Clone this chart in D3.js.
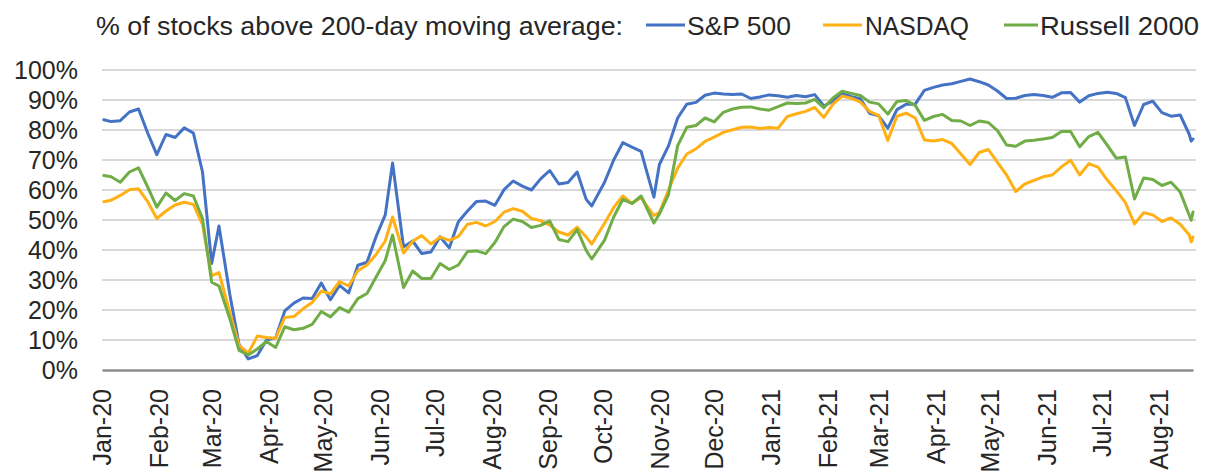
<!DOCTYPE html>
<html>
<head>
<meta charset="utf-8">
<script src="https://cdnjs.cloudflare.com/ajax/libs/d3/7.8.5/d3.min.js"></script>
<style>
  body { margin: 0; background: #fff; }
  svg { display: block; }
</style>
</head>
<body>
<div id="chart"></div>
<script>
// % of stocks above their 200-day moving average
const dates = [
  "2020-01-02","2020-01-06","2020-01-11","2020-01-16","2020-01-21","2020-01-26","2020-01-31","2020-02-05","2020-02-10","2020-02-15",
  "2020-02-20","2020-02-25","2020-03-01","2020-03-05","2020-03-11","2020-03-16","2020-03-21","2020-03-26","2020-03-31","2020-04-05",
  "2020-04-10","2020-04-15","2020-04-20","2020-04-25","2020-04-30","2020-05-05","2020-05-10","2020-05-15","2020-05-20","2020-05-25",
  "2020-05-30","2020-06-04","2020-06-08","2020-06-14","2020-06-19","2020-06-24","2020-06-29","2020-07-04","2020-07-09","2020-07-14",
  "2020-07-19","2020-07-24","2020-07-29","2020-08-03","2020-08-08","2020-08-13","2020-08-18","2020-08-23","2020-08-28","2020-09-02",
  "2020-09-07","2020-09-12","2020-09-17","2020-09-22","2020-09-25","2020-10-02","2020-10-07","2020-10-12","2020-10-17","2020-10-22",
  "2020-10-29","2020-11-01","2020-11-06","2020-11-11","2020-11-16","2020-11-21","2020-11-26","2020-12-01","2020-12-06","2020-12-11",
  "2020-12-16","2020-12-21","2020-12-26","2020-12-31","2021-01-05","2021-01-10","2021-01-15","2021-01-20","2021-01-25","2021-01-30",
  "2021-02-04","2021-02-09","2021-02-14","2021-02-19","2021-02-24","2021-03-01","2021-03-06","2021-03-11","2021-03-16","2021-03-21",
  "2021-03-26","2021-03-31","2021-04-05","2021-04-10","2021-04-15","2021-04-20","2021-04-25","2021-04-30","2021-05-05","2021-05-10",
  "2021-05-15","2021-05-20","2021-05-25","2021-05-30","2021-06-04","2021-06-09","2021-06-14","2021-06-19","2021-06-24","2021-06-29",
  "2021-07-04","2021-07-09","2021-07-14","2021-07-19","2021-07-24","2021-07-29","2021-08-03","2021-08-08","2021-08-13","2021-08-18",
  "2021-08-19","2021-08-20"
];

const sp500 = [
  83.4, 82.8, 83.1, 86, 87, 79, 71.8, 78.5, 77.5, 80.7,
  79, 66, 35.5, 48, 25, 8.5, 3.7, 4.8, 10, 10.7,
  19.7, 22.3, 24, 23.8, 29, 23.4, 28.2, 25.7, 34.9, 35.9,
  44.5, 51.7, 69, 41, 43, 38.8, 39.3, 44.4, 40.7, 49.4,
  53, 56.2, 56.3, 54.9, 60.1, 63, 61.3, 60, 63.7, 66.5,
  62, 62.5, 66, 56.8, 54.7, 62.6, 70, 75.8, 74.3, 72.9,
  57.6, 68.5, 74.7, 84, 88.6, 89.2, 91.6, 92.3, 92, 91.8,
  92, 90.5, 91, 91.7, 91.4, 90.9, 91.5, 91.1, 91.8, 88,
  89.6, 92.3, 91.1, 90.4, 85.6, 84.7, 80.6, 86.8, 88.6, 88.6,
  93.2, 94.2, 95, 95.4, 96.2, 97, 96.1, 95, 93, 90.5,
  90.6, 91.5, 91.8, 91.5, 90.9, 92.4, 92.5, 89.3, 91.4, 92.2,
  92.6, 92.2, 90.8, 81.5, 88.5, 89.6, 85.8, 84.6, 85, 78.5,
  76.3, 77
];

const nasdaq = [
  56.1, 56.6, 58.2, 60.1, 60.4, 56.1, 50.5, 53, 55, 55.9,
  55.2, 48.5, 31.4, 32.5, 19, 8.2, 5.6, 11.3, 10.8, 10.6,
  17.5, 17.8, 20.4, 22.5, 26.3, 25.4, 29.5, 28, 33.1, 35,
  38.5, 43, 51, 39, 42.9, 44.8, 42, 44.3, 43.2, 44.5,
  48.6, 49.2, 48, 49.5, 52.6, 53.8, 52.9, 50.5, 49.8, 48.3,
  46, 45, 47.6, 44.3, 42, 48.9, 54.2, 58, 55.5, 57.5,
  51.5, 52.5, 60, 67.3, 72, 73.7, 76.2, 77.6, 79.2, 80.1,
  80.9, 81, 80.5, 80.8, 80.6, 84.5, 85.4, 86.2, 87.5, 84.2,
  88.6, 91.3, 90.6, 89.3, 86.2, 84.8, 76.5, 84.6, 85.6, 84,
  76.7, 76.3, 76.8, 75.5, 72, 68.5, 72.5, 73.5, 69.2, 65,
  59.5, 62, 63.2, 64.4, 65, 67.7, 69.9, 65, 68.8, 67.6,
  63.4, 59.8, 55.8, 48.7, 52.4, 51.7, 49.5, 50.7, 48.6, 45,
  42.7, 44.3
];

const russell = [
  64.8, 64.4, 62.6, 66, 67.4, 61, 54.3, 59, 56.5, 58.8,
  58, 50.5, 29.3, 28, 17, 6.5, 5, 7, 9.5, 7.5,
  14.4, 13.4, 13.9, 15.2, 19.5, 17.7, 20.8, 19.3, 23.8, 25.5,
  31, 36.5, 45, 27.5, 33, 30.5, 30.5, 35.5, 33.5, 35,
  39.5, 39.7, 38.8, 42.5, 47.8, 50.3, 49.5, 47.5, 48.2, 49.7,
  43.5, 42.8, 46.8, 39.8, 37, 43.3, 51, 56.9, 55.5, 58,
  49, 52, 58.5, 74.8, 80.9, 81.5, 84, 82.7, 85.9, 87,
  87.6, 87.7, 87, 86.6, 87.8, 89, 88.8, 89, 90.2, 87.4,
  90.7, 92.9, 92.2, 91.5, 89.3, 88.7, 85.3, 89.5, 89.8, 88.2,
  83.2, 84.5, 85.2, 83.2, 83, 81.5, 83, 82.5, 79.8, 75,
  74.6, 76.3, 76.6, 77, 77.5, 79.5, 79.5, 74.4, 77.8, 79.2,
  75, 70.6, 71, 57, 64, 63.5, 61.5, 62.6, 59.3, 51.5,
  49.9, 52.7
];

const seriesNames = ["S&P 500", "NASDAQ", "Russell 2000"];
const seriesColors = ["#4472c4", "#ffb014", "#70ad47"];
const yTicks = [0, 10, 20, 30, 40, 50, 60, 70, 80, 90, 100];
const legendTitle = "% of stocks above 200-day moving average:";

const W = 1205, H = 475;
const margin = { top: 70, right: 12, bottom: 105, left: 102 };

const parse = d3.timeParse("%Y-%m-%d");
const dateObjs = dates.map(parse);
const series = [sp500, nasdaq, russell].map((vals, i) => ({
  name: seriesNames[i],
  color: seriesColors[i],
  values: vals.map((v, j) => ({ date: dateObjs[j], value: v }))
}));

const svg = d3.select("#chart")
  .append("svg")
  .attr("width", W)
  .attr("height", H);

const x = d3.scaleTime()
  .domain([new Date(2020, 0, 1), dateObjs[dateObjs.length - 1]])
  .range([margin.left, W - margin.right]);

const y = d3.scaleLinear()
  .domain([0, 100])
  .range([H - margin.bottom, margin.top]);

// gridlines
svg.append("g")
  .selectAll("line")
  .data(yTicks.filter(d => d > 0))
  .join("line")
  .attr("x1", margin.left)
  .attr("x2", W - margin.right + 3)
  .attr("y1", d => y(d))
  .attr("y2", d => y(d))
  .attr("stroke", "#d9d9d9")
  .attr("stroke-width", 2);

// y axis labels
const yAxis = svg.append("g")
  .attr("transform", `translate(${margin.left},0)`)
  .call(d3.axisLeft(y).tickValues(yTicks).tickFormat(d => d + "%").tickSize(0).tickPadding(24));
yAxis.select(".domain").remove();
yAxis.selectAll("text")
  .attr("font-family", "'Liberation Sans', Arial, sans-serif")
  .attr("font-size", 25)
  .attr("fill", "#262626");

// x axis, month labels turned upright
const xAxis = svg.append("g")
  .attr("transform", `translate(0,${y(0)})`)
  .call(d3.axisBottom(x).ticks(d3.timeMonth.every(1)).tickFormat(d3.timeFormat("%b-%y")).tickSize(0));
xAxis.select(".domain")
  .attr("stroke", "#8c8c8c")
  .attr("stroke-width", 2.5);
xAxis.selectAll("text")
  .attr("transform", "rotate(-90)")
  .attr("x", -19)
  .attr("y", 0)
  .attr("dy", "0.35em")
  .attr("text-anchor", "end")
  .attr("font-family", "'Liberation Sans', Arial, sans-serif")
  .attr("font-size", 25)
  .attr("fill", "#262626");

// lines
const line = d3.line()
  .x(d => x(d.date))
  .y(d => y(d.value));

svg.append("g")
  .selectAll("path")
  .data(series)
  .join("path")
  .attr("d", d => line(d.values))
  .attr("fill", "none")
  .attr("stroke", d => d.color)
  .attr("stroke-width", 3)
  .attr("stroke-linejoin", "round")
  .attr("stroke-linecap", "round");

// legend
const legend = svg.append("g")
  .attr("font-family", "'Liberation Sans Narrow', 'Liberation Sans', Arial, sans-serif")
  .attr("font-size", 26)
  .attr("fill", "#262626");

legend.append("text")
  .attr("x", 96)
  .attr("y", 35)
  .attr("textLength", 527)
  .attr("lengthAdjust", "spacingAndGlyphs")
  .text(legendTitle);

const legendPos = [
  { x0: 646, x1: 685, tx: 687, tw: 104 },
  { x0: 823, x1: 862, tx: 865, tw: 104 },
  { x0: 1004, x1: 1038, tx: 1040, tw: 159 }
];

series.forEach((s, i) => {
  const p = legendPos[i];
  legend.append("line")
    .attr("x1", p.x0).attr("x2", p.x1)
    .attr("y1", 25).attr("y2", 25)
    .attr("stroke", s.color)
    .attr("stroke-width", 3);
  legend.append("text")
    .attr("x", p.tx)
    .attr("y", 35)
    .attr("textLength", p.tw)
    .attr("lengthAdjust", "spacingAndGlyphs")
    .text(s.name);
});
</script>
</body>
</html>
